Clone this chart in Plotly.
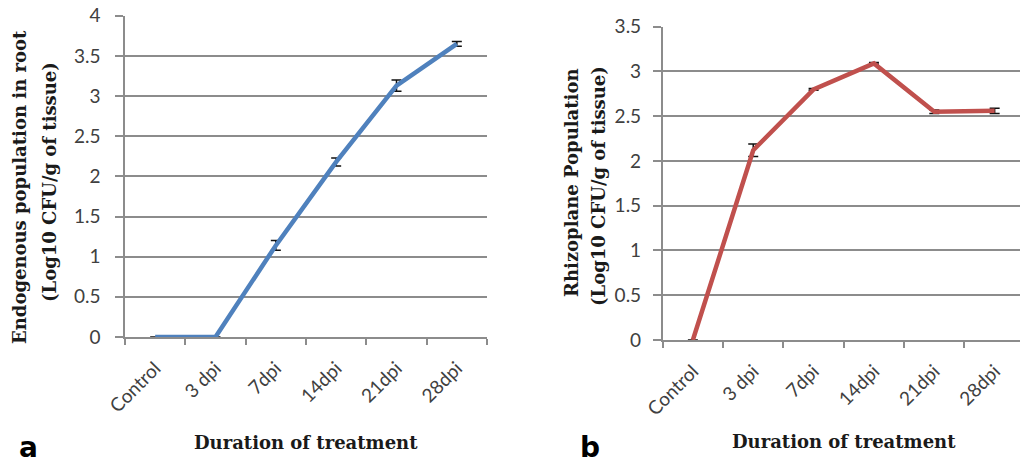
import plotly.graph_objects as go

W, H = 1020, 464

categories = ["Control", "3 dpi", "7dpi", "14dpi", "21dpi", "28dpi"]

# Panel a: endogenous population in root
endo_mean = [0.0, 0.0, 1.14, 2.18, 3.13, 3.65]
endo_err = [0.0, 0.0, 0.06, 0.05, 0.07, 0.03]

# Panel b: rhizoplane population
rhizo_mean = [0.0, 2.12, 2.80, 3.09, 2.55, 2.56]
rhizo_err = [0.0, 0.07, 0.01, 0.01, 0.02, 0.03]

y_ticks_a = [0, 0.5, 1, 1.5, 2, 2.5, 3, 3.5, 4]
y_ticks_b = [0, 0.5, 1, 1.5, 2, 2.5, 3, 3.5]

GRID = "#8c8c8c"
YTICKFONT = dict(family="Lato, 'Open Sans', sans-serif", size=19, color="#404040")
XTICKFONT = dict(family="Lato, 'Open Sans', sans-serif", size=19, color="#404040")
TITLEFONT = dict(family="'DejaVu Serif', serif", size=18, color="#1a1a1a")


def px(x):
    return x / W


def py(y):
    return (H - y) / H


fig = go.Figure()

fig.add_trace(go.Scatter(
    x=categories, y=endo_mean, mode="lines",
    line=dict(color="#4f81bd", width=4.5),
    error_y=dict(type="data", array=endo_err, visible=True,
                 color="#111111", thickness=1.5, width=5),
    xaxis="x", yaxis="y", showlegend=False,
))

fig.add_trace(go.Scatter(
    x=categories, y=rhizo_mean, mode="lines",
    line=dict(color="#c0504d", width=4.5),
    error_y=dict(type="data", array=rhizo_err, visible=True,
                 color="#111111", thickness=1.5, width=5),
    xaxis="x2", yaxis="y2", showlegend=False,
))

xcommon = dict(
    type="category", tickson="boundaries", ticks="outside", ticklen=6,
    tickcolor=GRID, tickwidth=1.5, showline=True, linecolor=GRID, linewidth=1.5,
    showgrid=False, tickangle=-45, tickfont=XTICKFONT, zeroline=False,
    ticklabelstandoff=11, automargin=False,
)
ycommon = dict(
    ticks="outside", ticklen=8, tickcolor=GRID, tickwidth=1.5,
    showline=True, linecolor=GRID, linewidth=1.5,
    showgrid=True, gridcolor=GRID, gridwidth=1.5,
    tickfont=YTICKFONT, zeroline=False, automargin=False,
)

fig.update_layout(
    width=W, height=H,
    margin=dict(l=0, r=0, t=0, b=0, autoexpand=False),
    paper_bgcolor="white", plot_bgcolor="white",
    xaxis=dict(domain=[px(125), px(487)], range=[-0.5, 5.5],
               anchor="y", **xcommon),
    yaxis=dict(domain=[py(337), py(15.7)], range=[0, 4],
               tickvals=y_ticks_a, ticktext=[f"{v:g}" for v in y_ticks_a],
               anchor="x", ticklabelstandoff=11, **ycommon),
    xaxis2=dict(domain=[px(662.7), 1.0], range=[-0.5, 5.42],
                anchor="y2", **xcommon),
    yaxis2=dict(domain=[py(340), py(26.7)], range=[0, 3.5],
                tickvals=y_ticks_b, ticktext=[f"{v:g}" for v in y_ticks_b],
                anchor="x2", ticklabelstandoff=8, **ycommon),
)

annotations = [
    # panel a titles
    dict(text="<b>Endogenous population in root</b>", x=px(19), y=py(187), textangle=-90),
    dict(text="<b>(Log10 CFU/g of tissue)</b>", x=px(49), y=py(182), textangle=-90),
    dict(text="<b>Duration of treatment</b>", x=px(306), y=py(442), textangle=0),
    # panel b titles
    dict(text="<b>Rhizoplane Population</b>", x=px(571), y=py(183), textangle=-90),
    dict(text="<b>(Log10 CFU/g of tissue)</b>", x=px(598), y=py(186), textangle=-90),
    dict(text="<b>Duration of treatment</b>", x=px(844), y=py(441), textangle=0),
]
for a in annotations:
    fig.add_annotation(xref="paper", yref="paper", showarrow=False,
                       xanchor="center", yanchor="middle", font=TITLEFONT, **a)

# panel letters
LETTERFONT = dict(family="'DejaVu Sans', sans-serif", size=28, color="black")
fig.add_annotation(text="<b>a</b>", x=px(17), y=-2 / H, xref="paper", yref="paper",
                   xanchor="left", yanchor="bottom", showarrow=False, font=LETTERFONT)
fig.add_annotation(text="<b>b</b>", x=px(578), y=-2 / H, xref="paper", yref="paper",
                   xanchor="left", yanchor="bottom", showarrow=False, font=LETTERFONT)

# page body without default spacing so the figure sits at the window corner
fig.write_html("out.html", post_script="document.body.style.margin='0px';")
